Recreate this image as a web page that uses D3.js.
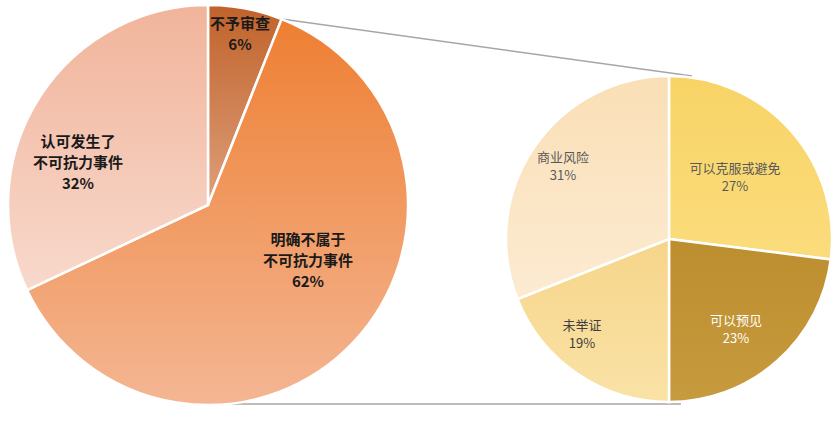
<!DOCTYPE html><html><head><meta charset="utf-8">
<script src="https://cdn.jsdelivr.net/npm/d3@7"></script>
<style>body{margin:0;background:#fff}</style></head><body>
<svg id="c" width="839" height="422"></svg>
<script>
const leftCats=["不予审查","明确不属于\n不可抗力事件","认可发生了\n不可抗力事件"];
const leftVals=[6,62,32];
const rightCats=["可以克服或避免","可以预见","未举证","商业风险"];
const rightVals=[27,23,19,31];

const svg=d3.select("#c");
const defs=svg.append("defs");
function grad(id,c1,c2){const g=defs.append("linearGradient").attr("id",id).attr("x1",0).attr("y1",0).attr("x2",0).attr("y2",1);
g.append("stop").attr("offset","0%").attr("stop-color",c1);g.append("stop").attr("offset","100%").attr("stop-color",c2);}
grad("l0","#c0622a","#dea07c");grad("l1","#ee7f32","#f4b693");grad("l2","#f1b49b","#f8d9cc");
grad("r0","#f8d466","#fbdc7c");grad("r1","#bd8e2e","#c69a3e");grad("r2","#f6d58a","#fae2a6");grad("r3","#fadfb6","#fcebd2");
const lFill=["url(#l0)","url(#l1)","url(#l2)"],rFill=["url(#r0)","url(#r1)","url(#r2)","url(#r3)"];

const LC=[208,205],LR=200,RC=[669,239],RR=163;
const pie=d3.pie().sort(null).value(d=>d);
const la=pie(leftVals),ra=pie(rightVals);
const arcL=d3.arc().innerRadius(0).outerRadius(LR),arcR=d3.arc().innerRadius(0).outerRadius(RR);
const p1=[LC[0]+LR*Math.sin(la[0].endAngle),LC[1]-LR*Math.cos(la[0].endAngle)];
svg.append("line").attr("x1",p1[0]).attr("y1",p1[1]).attr("x2",692).attr("y2",76).attr("stroke","#a6a6a6").attr("stroke-width",1.5);
svg.append("line").attr("x1",203).attr("y1",LC[1]+LR-1).attr("x2",681).attr("y2",LC[1]+LR-1).attr("stroke","#a6a6a6").attr("stroke-width",1.5);

const gl=svg.append("g").attr("transform",`translate(${LC})`);
gl.selectAll("path").data(la).join("path").attr("d",arcL).attr("fill",(d,i)=>lFill[i]).attr("stroke","#fff").attr("stroke-width",2.5);
const gr=svg.append("g").attr("transform",`translate(${RC})`);
gr.selectAll("path").data(ra).join("path").attr("d",arcR).attr("fill",(d,i)=>rFill[i]).attr("stroke","#fff").attr("stroke-width",2.5);

function label(g,lines,pct,x,y,fs,col,bold){
  const all=lines.split("\n").concat([pct+"%"]);
  all.forEach((s,i)=>g.append("text").attr("text-anchor","middle").attr("fill",col)
    .attr("font-family","'Noto Sans CJK SC',sans-serif").attr("font-size",fs).attr("font-weight",bold?"bold":"normal")
    .attr("x",x).attr("y",y+i*fs*1.4).text(s));
}
const lPos=[[32,-176],[100,40],[-130,-58]];
la.forEach((d,i)=>label(gl,leftCats[i],leftVals[i],lPos[i][0],lPos[i][1],15,"#1a1a1a",true));
const rPos=[[66,-66],[67,86],[-87,91],[-106,-77]];
const rCol=["#595959","#ffffff","#404040","#595959"];
ra.forEach((d,i)=>label(gr,rightCats[i],rightVals[i],rPos[i][0],rPos[i][1],13,rCol[i],false));
</script></body></html>
